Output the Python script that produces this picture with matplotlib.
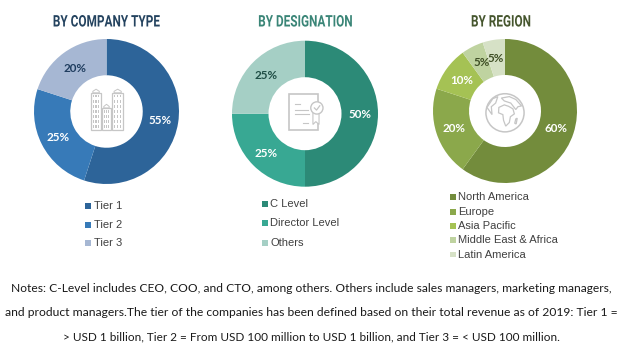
import math

import matplotlib
matplotlib.use("Agg")
import matplotlib.pyplot as plt
from matplotlib.patches import Circle, Rectangle, Polygon
from matplotlib.patheffects import AbstractPathEffect
from matplotlib.transforms import Affine2D

W, H = 623, 358

company_labels = ["Tier 1", "Tier 2", "Tier 3"]
company_values = [55, 25, 20]
company_colors = ["#2d6499", "#377ab8", "#a6b7d3"]

desig_labels = ["C Level", "Director Level", "Others"]
desig_values = [50, 25, 25]
desig_colors = ["#2c8a77", "#38a893", "#a5cfc5"]

region_labels = ["North America", "Europe", "Asia Pacific", "Middle East & Africa", "Latin America"]
region_values = [60, 20, 10, 5, 5]
region_colors = ["#738c3c", "#8ba84b", "#a5c254", "#bfd3a0", "#d6e1c6"]

notes = [
    "Notes: C-Level includes CEO, COO, and CTO, among others. Others include sales managers, marketing managers,",
    "and product managers.The tier of the companies has been defined based on their total revenue as of 2019: Tier 1 =",
    "> USD 1 billion, Tier 2 = From USD 100 million to USD 1 billion, and Tier 3 = < USD 100 million.",
]
note_sizes = [8.65, 8.75, 8.5]

ICON = "#c6c6c6"


class Squeeze(AbstractPathEffect):
    """Narrows text around its own centre, the title font is condensed"""

    def __init__(self, sx):
        super().__init__()
        self.sx = sx

    def draw_path(self, renderer, gc, tpath, affine, rgbFace=None):
        ext = tpath.get_extents()
        mid = (ext.x0 + ext.x1) / 2
        squeeze = Affine2D().translate(-mid, 0).scale(self.sx, 1).translate(mid, 0)
        renderer.draw_path(gc, tpath, squeeze + affine, rgbFace)


def px_axes(fig, cx, cy, r):
    ax = fig.add_axes([(cx - r) / W, 1 - (cy + r) / H, 2 * r / W, 2 * r / H])
    ax.set_xlim(-1, 1)
    ax.set_ylim(-1, 1)
    ax.axis("off")
    return ax


def donut(fig, cx, cy, r, values, colors, label_colors, label_pos=None):
    ax = px_axes(fig, cx, cy, r)
    ax.pie(values, colors=colors, startangle=90, counterclock=False, radius=1,
           wedgeprops=dict(width=0.5, linewidth=0), frame=False)
    ax.set_xlim(-1, 1)
    ax.set_ylim(-1, 1)
    start = 90.0
    total = sum(values)
    for i, (v, c) in enumerate(zip(values, label_colors)):
        mid = start - v / total * 180
        start -= v / total * 360
        x = 0.75 * math.cos(math.radians(mid))
        y = 0.75 * math.sin(math.radians(mid)) - 0.012
        if label_pos and label_pos[i]:
            x, y = label_pos[i]
        ax.text(x, y, f"{v}%", color=c, fontsize=8.4, ha="center", va="center",
                family="Lato", fontweight="bold")
    return ax


def draw_buildings(ax):
    towers = [(-0.43, -0.52, 0.28, 1.04), (0.16, -0.52, 0.30, 1.04), (-0.125, -0.52, 0.25, 0.62)]
    for x0, y0, w, h in towers:
        ax.add_patch(Rectangle((x0, y0), w, h, fc="white", ec=ICON, lw=0.9))
        cap = [(x0 + 0.05, y0 + h), (x0 + 0.05, y0 + h + 0.04), (x0 + w / 2, y0 + h + 0.10),
               (x0 + w - 0.05, y0 + h + 0.04), (x0 + w - 0.05, y0 + h)]
        ax.add_patch(Polygon(cap, fc="white", ec=ICON, lw=0.7))
        for row in range(int(h / 0.145)):
            for col in range(3):
                ax.add_patch(Rectangle((x0 + 0.045 + col * (w - 0.13) / 2, y0 + 0.07 + row * 0.14), 0.04, 0.07,
                                       fc=ICON, lw=0))


def draw_certificate(ax):
    outline = [(-0.44, 0.55), (0.36, 0.55), (0.36, 0.32), (0.36, -0.45), (0.18, -0.45), (-0.44, -0.45)]
    ax.add_patch(Polygon(outline, fc="white", ec=ICON, lw=1.2))
    for y, x0, x1 in [(0.28, -0.28, -0.14), (0.10, -0.28, 0.08), (-0.02, -0.28, 0.10), (-0.26, -0.06, 0.08)]:
        ax.plot([x0, x1], [y, y], color=ICON, lw=0.8)
    ribbon = [(0.22, 0.06), (0.22, -0.30), (0.30, -0.22), (0.39, -0.30), (0.39, 0.06)]
    ax.add_patch(Polygon(ribbon, fc="white", ec=ICON, lw=0.8))
    ax.add_patch(Circle((0.33, 0.16), 0.17, fc="white", ec=ICON, lw=1.0))
    ax.plot([0.26, 0.32, 0.41], [0.16, 0.10, 0.22], color=ICON, lw=0.9)


def draw_globe(ax):
    cy = -0.05
    ax.add_patch(Circle((0, cy), 0.53, fc="white", ec=ICON, lw=1.1))
    land = [
        [(-0.17, 0.10), (-0.02, 0.17), (0.10, 0.13), (0.22, 0.06), (0.26, -0.08), (0.15, -0.16), (0.12, -0.32),
         (0.02, -0.42), (-0.04, -0.26), (-0.06, -0.10), (-0.18, -0.05)],
        [(-0.10, 0.36), (0.12, 0.40), (0.30, 0.32), (0.46, 0.14), (0.36, 0.12), (0.30, 0.04), (0.16, 0.22), (-0.02, 0.28)],
        [(-0.50, 0.10), (-0.34, 0.34), (-0.20, 0.40), (-0.26, 0.22), (-0.38, 0.12), (-0.36, -0.10)],
        [(0.30, -0.22), (0.34, -0.20), (0.31, -0.36), (0.27, -0.34)],
    ]
    for shape in land:
        ax.add_patch(Polygon(shape, fc="white", ec=ICON, lw=0.9))


def legend(fig, x_box, x_text, ys, labels, colors, size, box):
    for y, lab, col in zip(ys, labels, colors):
        fig.add_artist(Rectangle((x_box / W, 1 - (y + box / 2) / H), box / W, box / H,
                                 transform=fig.transFigure, fc=col, lw=0))
        fig.text(x_text / W, 1 - y / H, lab, fontsize=size, color="#404040", va="center", ha="left",
                 family="Liberation Sans")


fig = plt.figure(figsize=(W / 100, H / 100), dpi=100, facecolor="white")

for cx, title, color in [(106.5, "BY COMPANY TYPE", "#24435f"), (305.5, "BY DESIGNATION", "#3a8577"), (501, "BY REGION", "#46562e")]:
    fig.text(cx / W, 1 - 22 / H, title, fontsize=11.5, color=color, ha="center", va="center",
             family="Roboto", fontweight="bold", path_effects=[Squeeze(0.74)])

donut(fig, 106.5, 111.5, 72.5, company_values, company_colors, ["white", "white", "#1f3d5f"])
draw_buildings(px_axes(fig, 106.5, 111.5, 36))
donut(fig, 305, 113.7, 73, desig_values, desig_colors, ["white", "white", "#1f4f46"])
draw_certificate(px_axes(fig, 305, 113.7, 36))
donut(fig, 505, 111, 72, region_values, region_colors, ["white", "white", "white", "#3f4f26", "#3f4f26"],
      [None, None, None, (-0.33, 0.667), (-0.125, 0.736)])
draw_globe(px_axes(fig, 505, 111, 36))

legend(fig, 85, 93.5, [206, 224.5, 243], company_labels, company_colors, 8.0, 6)
legend(fig, 262, 270.5, [203.5, 223, 242.5], desig_labels, desig_colors, 8.0, 6)
legend(fig, 450, 458.5, [197, 212, 226, 240, 254.5], region_labels, region_colors, 8.0, 5.5)

for y, line, size in zip([289, 313, 337], notes, note_sizes):
    fig.text(311 / W, 1 - y / H, line, fontsize=size, color="#1a1a1a", ha="center", va="center", family="Lato")

fig.savefig("out.png", dpi=100)
plt.close(fig)
